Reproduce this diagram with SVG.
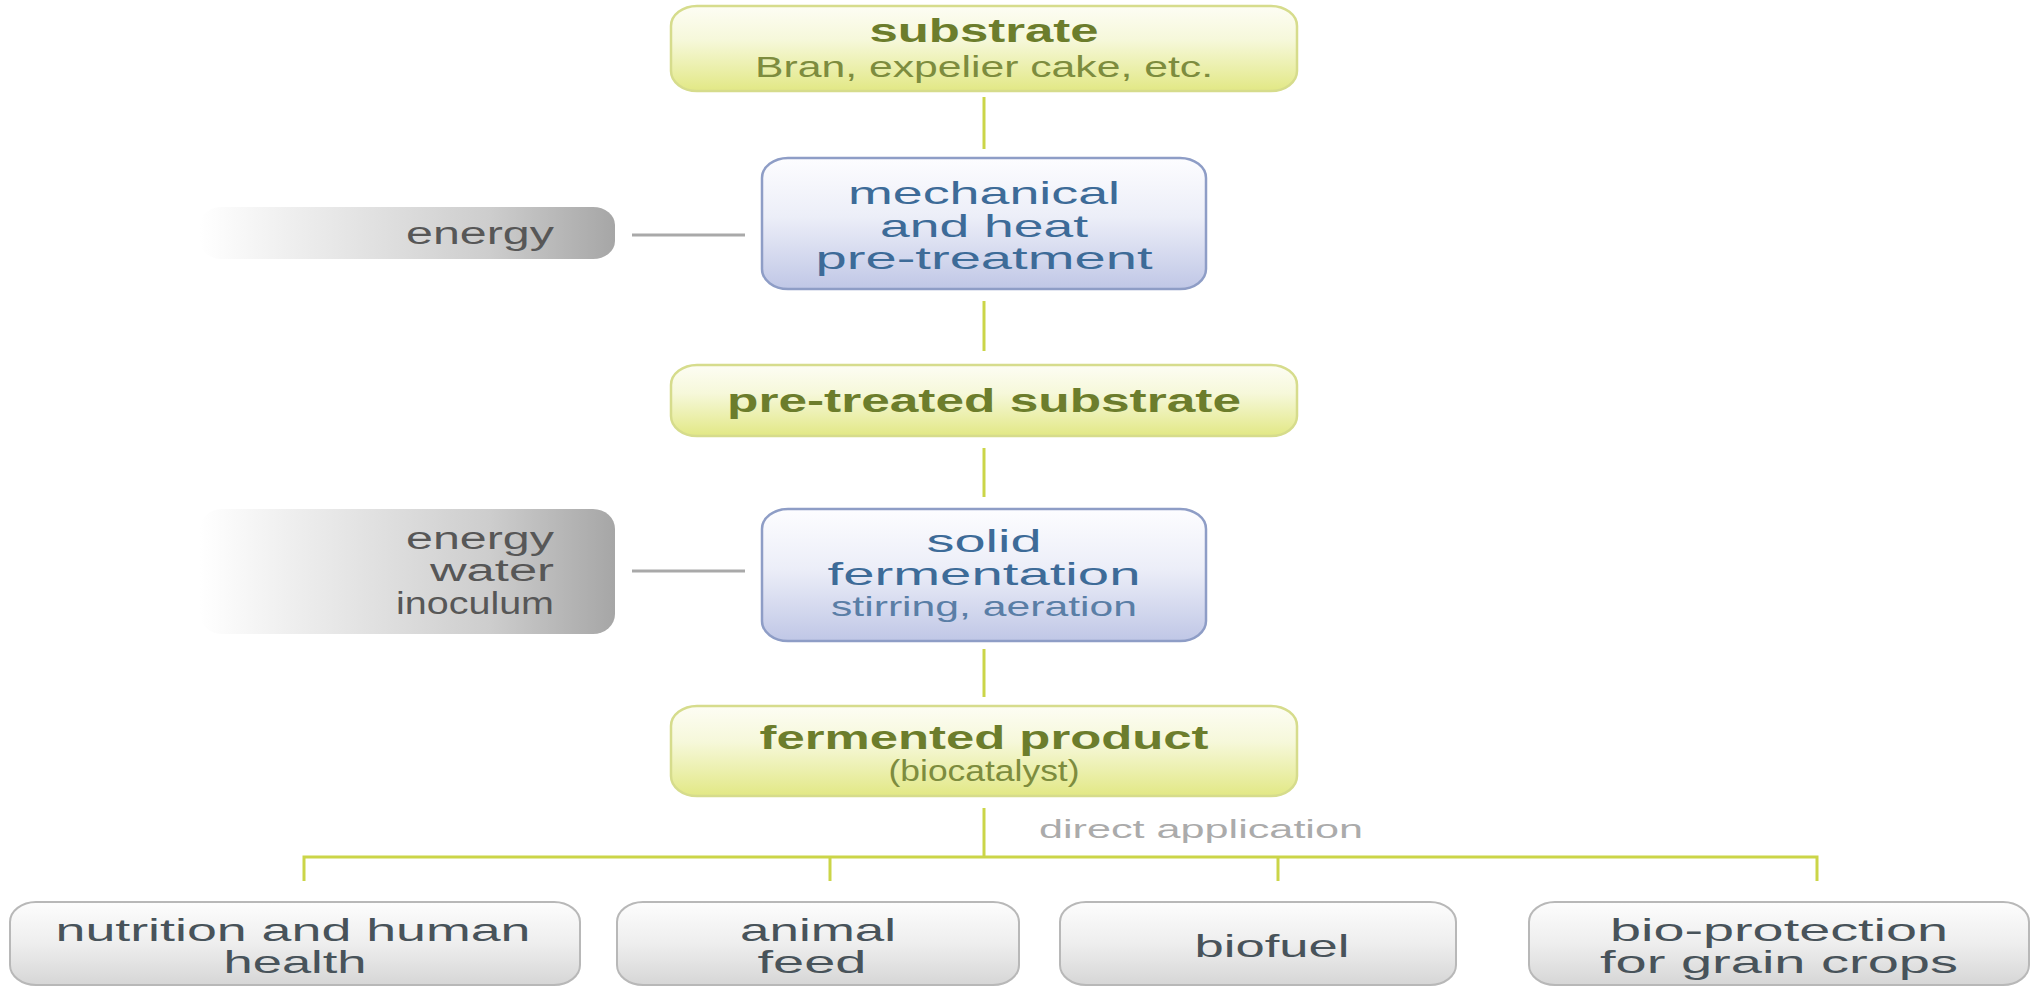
<svg xmlns="http://www.w3.org/2000/svg" width="2036" height="987" viewBox="0 0 2036 987">
<defs>
<linearGradient id="gGreen" x1="0" y1="0" x2="0" y2="1">
<stop offset="0" stop-color="#fdfdf4"/><stop offset="0.4" stop-color="#f6f8da"/><stop offset="1" stop-color="#e2e885"/>
</linearGradient>
<linearGradient id="gBlue" x1="0" y1="0" x2="0" y2="1">
<stop offset="0" stop-color="#fdfdff"/><stop offset="0.45" stop-color="#eceef8"/><stop offset="1" stop-color="#c0c7e6"/>
</linearGradient>
<linearGradient id="gGray" x1="0" y1="0" x2="1" y2="0">
<stop offset="0" stop-color="#ffffff"/><stop offset="0.2" stop-color="#f0f0f0"/><stop offset="0.7" stop-color="#cdcdcd"/><stop offset="1" stop-color="#a6a6a6"/>
</linearGradient>
<linearGradient id="gBottom" x1="0" y1="0" x2="0" y2="1">
<stop offset="0" stop-color="#fdfdfd"/><stop offset="0.5" stop-color="#eeeeee"/><stop offset="1" stop-color="#d6d6d6"/>
</linearGradient>
</defs>
<style>
text{font-family:"Liberation Sans",Arial,Helvetica,sans-serif;}
.gbox{fill:url(#gGreen);stroke:#d6dc8c;stroke-width:2.5;}
.bbox{fill:url(#gBlue);stroke:#8e9dc6;stroke-width:2.5;}
.sbox{fill:url(#gGray);stroke:none;}
.obox{fill:url(#gBottom);stroke:#b8b8b8;stroke-width:2;}
.gt{fill:#6c7d2c;font-size:33px;font-weight:bold;text-anchor:middle;}
.gs{fill:#7d8c3e;font-size:30px;text-anchor:middle;}
.bt{fill:#3d6b98;font-size:32px;text-anchor:middle;}
.bs{fill:#5a7ea6;font-size:28px;text-anchor:middle;}
.st{fill:#575757;font-size:31px;text-anchor:end;}
.ot{fill:#48535a;font-size:32px;text-anchor:middle;}
.da{fill:#ababab;font-size:26px;}
.cg{stroke:#cbd548;stroke-width:3;fill:none;}
.cs{stroke:#a9a9a9;stroke-width:3;fill:none;}
</style>
<rect width="2036" height="987" fill="#ffffff"/>
<g id="connectors">
<line class="cg" x1="984" y1="97" x2="984" y2="149"/>
<line class="cg" x1="984" y1="301" x2="984" y2="351"/>
<line class="cg" x1="984" y1="448" x2="984" y2="497"/>
<line class="cg" x1="984" y1="649" x2="984" y2="697"/>
<line class="cg" x1="984" y1="808" x2="984" y2="857"/>
<polyline class="cg" points="304,881 304,857 1817,857 1817,881"/>
<line class="cg" x1="830" y1="857" x2="830" y2="881"/>
<line class="cg" x1="1278" y1="857" x2="1278" y2="881"/>
<line class="cs" x1="632" y1="235" x2="745" y2="235"/>
<line class="cs" x1="632" y1="571" x2="745" y2="571"/>
</g>
<g id="substrate">
<rect class="gbox" x="671" y="6" width="626" height="85" rx="26" ry="20"/>
<text class="gt" x="984" y="42" textLength="229" lengthAdjust="spacingAndGlyphs">substrate</text>
<text class="gs" x="984" y="77" textLength="458" lengthAdjust="spacingAndGlyphs">Bran, expelier cake, etc.</text>
</g>
<g id="energy1">
<rect class="sbox" x="200" y="207" width="415" height="52" rx="22" ry="18"/>
<text class="st" x="554" y="244" textLength="148" lengthAdjust="spacingAndGlyphs">energy</text>
</g>
<g id="pretreatment">
<rect class="bbox" x="762" y="158" width="444" height="131" rx="26" ry="20"/>
<text class="bt" x="984" y="204" textLength="272" lengthAdjust="spacingAndGlyphs">mechanical</text>
<text class="bt" x="984" y="237" textLength="208" lengthAdjust="spacingAndGlyphs">and heat</text>
<text class="bt" x="984" y="269" textLength="337" lengthAdjust="spacingAndGlyphs">pre-treatment</text>
</g>
<g id="pretreated">
<rect class="gbox" x="671" y="365" width="626" height="71" rx="26" ry="20"/>
<text class="gt" x="984" y="412" textLength="514" lengthAdjust="spacingAndGlyphs">pre-treated substrate</text>
</g>
<g id="inputs2">
<rect class="sbox" x="200" y="509" width="415" height="125" rx="22" ry="20"/>
<text class="st" x="554" y="549" textLength="148" lengthAdjust="spacingAndGlyphs">energy</text>
<text class="st" x="554" y="581" textLength="124" lengthAdjust="spacingAndGlyphs">water</text>
<text class="st" x="554" y="614" textLength="158" lengthAdjust="spacingAndGlyphs">inoculum</text>
</g>
<g id="fermentation">
<rect class="bbox" x="762" y="509" width="444" height="132" rx="26" ry="20"/>
<text class="bt" x="984" y="552" textLength="115" lengthAdjust="spacingAndGlyphs">solid</text>
<text class="bt" x="984" y="585" textLength="313" lengthAdjust="spacingAndGlyphs">fermentation</text>
<text class="bs" x="984" y="616" textLength="306" lengthAdjust="spacingAndGlyphs">stirring, aeration</text>
</g>
<g id="fermented">
<rect class="gbox" x="671" y="706" width="626" height="90" rx="26" ry="20"/>
<text class="gt" x="984" y="749" textLength="449" lengthAdjust="spacingAndGlyphs">fermented product</text>
<text class="gs" x="984" y="781" textLength="191" lengthAdjust="spacingAndGlyphs">(biocatalyst)</text>
</g>
<g id="direct-application">
<text class="da" x="1039" y="838" textLength="324" lengthAdjust="spacingAndGlyphs">direct application</text>
</g>
<g id="nutrition">
<rect class="obox" x="10" y="902" width="570" height="83" rx="26" ry="20"/>
<text class="ot" x="293" y="941" textLength="475" lengthAdjust="spacingAndGlyphs">nutrition and human</text>
<text class="ot" x="295" y="973" textLength="143" lengthAdjust="spacingAndGlyphs">health</text>
</g>
<g id="animal-feed">
<rect class="obox" x="617" y="902" width="402" height="83" rx="26" ry="20"/>
<text class="ot" x="818" y="941" textLength="156" lengthAdjust="spacingAndGlyphs">animal</text>
<text class="ot" x="812" y="973" textLength="109" lengthAdjust="spacingAndGlyphs">feed</text>
</g>
<g id="biofuel">
<rect class="obox" x="1060" y="902" width="396" height="83" rx="26" ry="20"/>
<text class="ot" x="1272" y="957" textLength="155" lengthAdjust="spacingAndGlyphs">biofuel</text>
</g>
<g id="bioprotection">
<rect class="obox" x="1529" y="902" width="500" height="83" rx="26" ry="20"/>
<text class="ot" x="1779" y="941" textLength="338" lengthAdjust="spacingAndGlyphs">bio-protection</text>
<text class="ot" x="1779" y="973" textLength="358" lengthAdjust="spacingAndGlyphs">for grain crops</text>
</g>
</svg>
